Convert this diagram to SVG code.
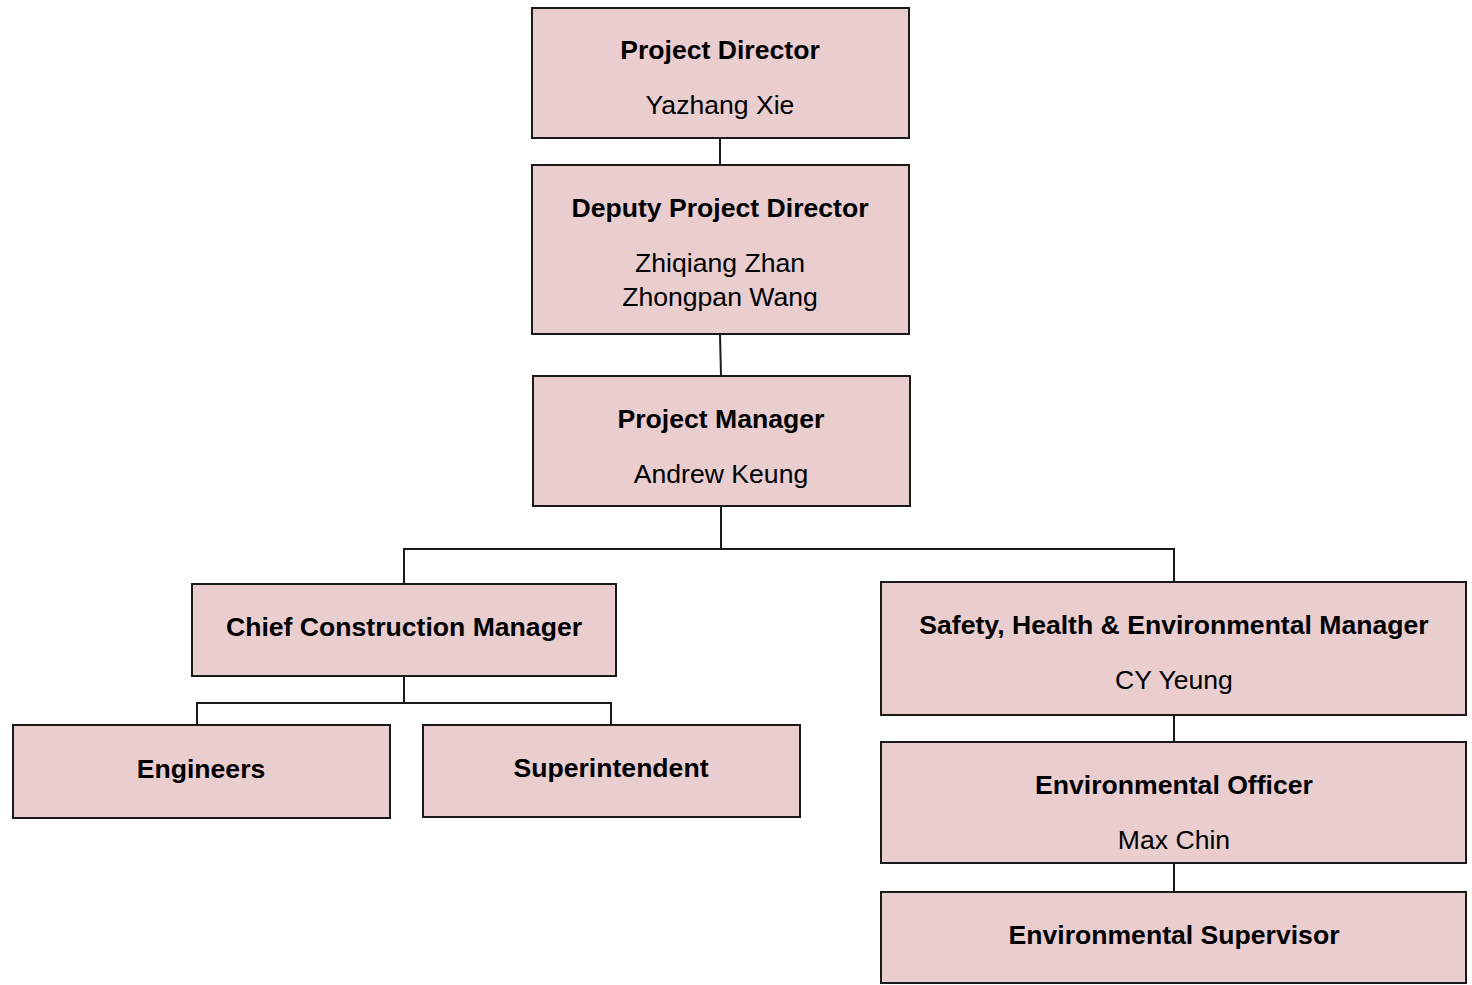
<svg xmlns="http://www.w3.org/2000/svg" width="1472" height="985" viewBox="0 0 1472 985">
<style>
.box{fill:#e9cdcf;stroke:#1a1a1a;stroke-width:2}
.t{font-family:"Liberation Sans",Arial,sans-serif;font-size:26.6px;text-anchor:middle;fill:#000}
.b{font-weight:bold}
.c{fill:none;stroke:#1a1a1a;stroke-width:2}
</style>
<rect width="1472" height="985" fill="#fff"/>
<g id="connectors">
<line class="c" x1="720" y1="138" x2="720" y2="165"/>
<line class="c" x1="720" y1="334" x2="721" y2="376"/>
<polyline class="c" points="721,506 721,549"/>
<polyline class="c" points="404,584 404,549 1174,549 1174,582"/>
<polyline class="c" points="404,676 404,703"/>
<polyline class="c" points="197,725 197,703 611,703 611,725"/>
<line class="c" x1="1174" y1="715" x2="1174" y2="742"/>
<line class="c" x1="1174" y1="863" x2="1174" y2="892"/>
</g>
<g id="project-director">
<rect class="box" x="532" y="8" width="377" height="130"/>
<text class="t b" x="720" y="59">Project Director</text>
<text class="t" x="720" y="114">Yazhang Xie</text>
</g>
<g id="deputy-project-director">
<rect class="box" x="532" y="165" width="377" height="169"/>
<text class="t b" x="720" y="217">Deputy Project Director</text>
<text class="t" x="720" y="272">Zhiqiang Zhan</text>
<text class="t" x="720" y="306">Zhongpan Wang</text>
</g>
<g id="project-manager">
<rect class="box" x="533" y="376" width="377" height="130"/>
<text class="t b" x="721" y="428">Project Manager</text>
<text class="t" x="721" y="483">Andrew Keung</text>
</g>
<g id="chief-construction-manager">
<rect class="box" x="192" y="584" width="424" height="92"/>
<text class="t b" x="404" y="636">Chief Construction Manager</text>
</g>
<g id="engineers">
<rect class="box" x="13" y="725" width="377" height="93"/>
<text class="t b" x="201" y="778">Engineers</text>
</g>
<g id="superintendent">
<rect class="box" x="423" y="725" width="377" height="92"/>
<text class="t b" x="611" y="777">Superintendent</text>
</g>
<g id="she-manager">
<rect class="box" x="881" y="582" width="585" height="133"/>
<text class="t b" x="1174" y="634">Safety, Health &amp; Environmental Manager</text>
<text class="t" x="1174" y="689">CY Yeung</text>
</g>
<g id="environmental-officer">
<rect class="box" x="881" y="742" width="585" height="121"/>
<text class="t b" x="1174" y="794">Environmental Officer</text>
<text class="t" x="1174" y="849">Max Chin</text>
</g>
<g id="environmental-supervisor">
<rect class="box" x="881" y="892" width="585" height="91"/>
<text class="t b" x="1174" y="944">Environmental Supervisor</text>
</g>
</svg>
